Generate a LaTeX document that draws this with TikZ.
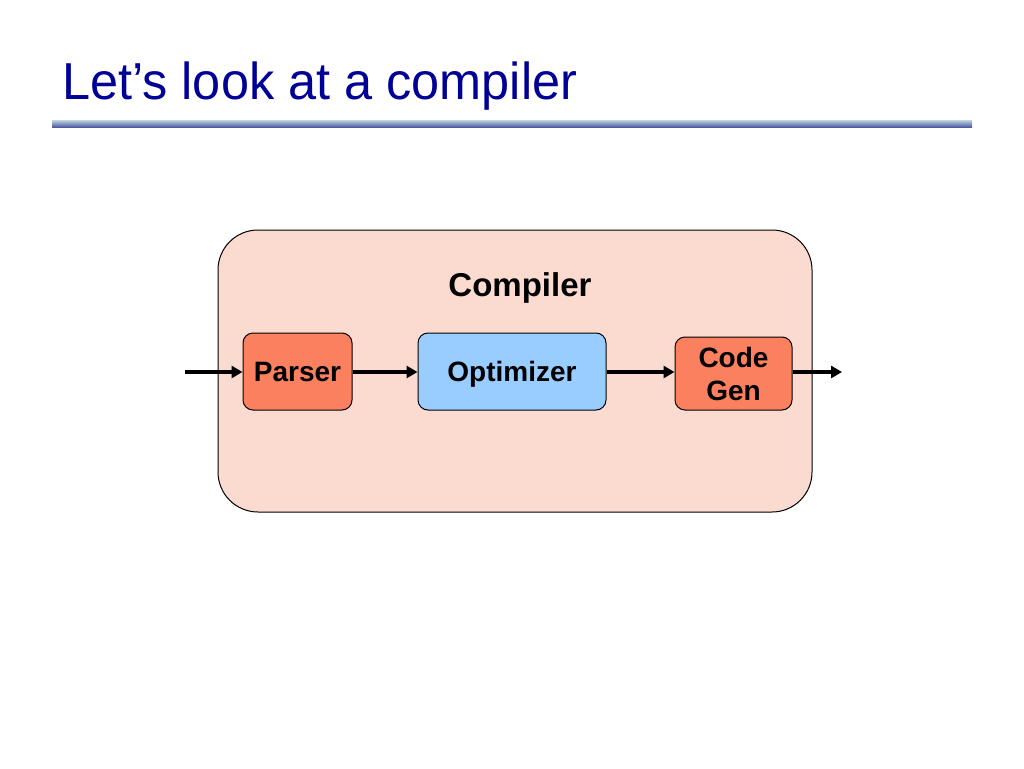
\documentclass[tikz,border=0pt]{standalone}
\usepackage{fontspec}
\setmainfont{Liberation Sans}
\newfontfamily\titlefont[FakeStretch=0.97]{Liberation Sans}
\usetikzlibrary{arrows.meta}
\definecolor{titleblue}{RGB}{0,0,150}
\definecolor{compilerbg}{RGB}{251,218,207}
\definecolor{stagered}{RGB}{250,128,96}
\definecolor{stageblue}{RGB}{153,204,255}
\definecolor{ruletop}{RGB}{190,215,225}
\definecolor{rulebot}{RGB}{80,90,160}
\begin{document}
\begin{tikzpicture}[x=1pt, y=-1pt, >={Triangle[length=11pt,width=12pt]}]
    \tikzstyle{stage}=[draw, line width=1pt, rounded corners=10pt, minimum height=77pt,
        align=center, font=\fontsize{28}{33}\selectfont\bfseries]
    \tikzstyle{oneline}=[text height=20pt, text depth=0pt]
    \tikzstyle{flow}=[->, line width=3.5pt]
    \useasboundingbox (0,0) rectangle (1024,768);

    % title and rule
    \node [anchor=west, inner sep=0pt, text=titleblue, font=\fontsize{52}{60}\selectfont\titlefont] (title) at (62,86) {Let’s look at a compiler};
    \shade [top color=ruletop, bottom color=rulebot] (52,120) rectangle (972,127);

    % compiler box
    \node [draw, line width=1pt, fill=compilerbg, rounded corners=40pt,
        minimum width=594pt, minimum height=282pt] (compiler) at (515,371) {};
    \node [font=\fontsize{33}{38}\selectfont\bfseries] (compilerlabel) at (520,288) {Compiler};

    % stages
    \node [stage, oneline, fill=stagered, minimum width=109pt] (parser) at (297.5,371.5) {Parser};
    \node [stage, oneline, fill=stageblue, minimum width=188pt] (optimizer) at (512,371.5) {Optimizer};
    \node [stage, fill=stagered, minimum width=117pt, minimum height=73pt] (codegen) at (733.5,373.5) {Code\\Gen};

    \coordinate (in) at (185,372);
    \coordinate (out) at (842,372);

    % draw lines
    \draw [flow] (in) -- (parser.west |- in);
    \draw [flow] (parser.east |- in) -- (optimizer.west |- in);
    \draw [flow] (optimizer.east |- in) -- (codegen.west |- in);
    \draw [flow] (codegen.east |- out) -- (out);

\end{tikzpicture}
\end{document}
